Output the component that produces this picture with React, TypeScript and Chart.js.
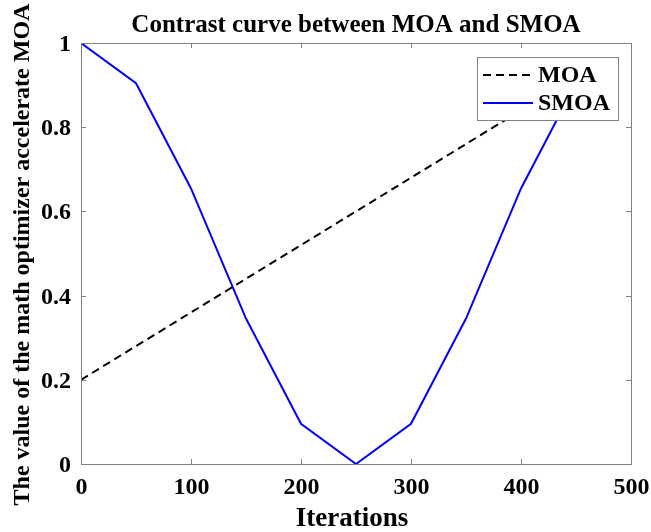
import React, { useEffect, useRef } from "react";
import { Chart, registerables } from "chart.js";

Chart.register(...registerables);

const iterations = [0, 50, 100, 150, 200, 250, 300, 350, 400, 450];
const smoaValues = [1, 0.9045, 0.6545, 0.3455, 0.0955, 0, 0.0955, 0.3455, 0.6545, 0.9045];
const moaIterations = [0, 450];
const moaValues = [0.2, 0.92];
const xTicks = [0, 100, 200, 300, 400, 500];
const yTicks = [0, 0.2, 0.4, 0.6, 0.8, 1];
const titleText = "Contrast curve between MOA and SMOA";
const xLabel = "Iterations";
const yLabel = "The value of the math optimizer accelerate MOA";
const seriesNames = ["MOA", "SMOA"];

const FONT = "'Liberation Serif', 'Times New Roman', serif";
const AXIS_GRAY = "#808080";

const framePlugin = {
  id: "frame",
  afterDraw(chart: any) {
    const { ctx, chartArea } = chart;
    const { left, right, top, bottom } = chartArea;
    const xs = chart.scales.x;
    const ys = chart.scales.y;
    ctx.save();
    ctx.strokeStyle = AXIS_GRAY;
    ctx.lineWidth = 1;
    ctx.strokeRect(Math.round(left) + 0.5, Math.round(top) + 0.5, Math.round(right - left), Math.round(bottom - top));
    const tl = 5;
    ctx.fillStyle = "#000";
    ctx.font = `bold 24px ${FONT}`;
    xTicks.forEach((v) => {
      const px = Math.round(xs.getPixelForValue(v)) + 0.5;
      ctx.beginPath();
      ctx.moveTo(px, bottom);
      ctx.lineTo(px, bottom - tl);
      ctx.moveTo(px, top);
      ctx.lineTo(px, top + tl);
      ctx.stroke();
      ctx.textAlign = "center";
      ctx.textBaseline = "middle";
      ctx.fillText(String(v), px, bottom + 24);
    });
    yTicks.forEach((v) => {
      const py = Math.round(ys.getPixelForValue(v)) + 0.5;
      ctx.beginPath();
      ctx.moveTo(left, py);
      ctx.lineTo(left + tl, py);
      ctx.moveTo(right, py);
      ctx.lineTo(right - tl, py);
      ctx.stroke();
      ctx.textAlign = "right";
      ctx.textBaseline = "middle";
      ctx.fillText(String(v), left - 10, py + 1);
    });

    ctx.fillStyle = "#000";
    const cx = (left + right) / 2;
    ctx.font = `bold 25px ${FONT}`;
    ctx.textAlign = "center";
    ctx.textBaseline = "alphabetic";
    ctx.fillText(titleText, cx, 32);
    ctx.font = `bold 27px ${FONT}`;
    ctx.fillText(xLabel, cx - 4, 526);
    ctx.save();
    ctx.translate(29, (top + bottom) / 2 + 1);
    ctx.rotate(-Math.PI / 2);
    ctx.font = `bold 24px ${FONT}`;
    ctx.fillText(yLabel, 0, 0);
    ctx.restore();

    const lx = 477, ly = 57, lw = 141, lh = 63;
    ctx.fillStyle = "#fff";
    ctx.fillRect(lx, ly, lw, lh);
    ctx.strokeStyle = AXIS_GRAY;
    ctx.lineWidth = 1;
    ctx.strokeRect(lx + 0.5, ly + 0.5, lw, lh);
    const rows = [
      { y: 75, color: "#000", dash: [8, 5] },
      { y: 103, color: "#0000ff", dash: [] as number[] },
    ];
    rows.forEach((r, i) => {
      ctx.beginPath();
      ctx.setLineDash(r.dash);
      ctx.strokeStyle = r.color;
      ctx.lineWidth = 2;
      ctx.moveTo(483, r.y);
      ctx.lineTo(533, r.y);
      ctx.stroke();
      ctx.setLineDash([]);
      ctx.fillStyle = "#000";
      ctx.font = `bold 24px ${FONT}`;
      ctx.textAlign = "left";
      ctx.textBaseline = "middle";
      ctx.fillText(seriesNames[i], 538, r.y + 1);
    });
    ctx.restore();
  },
};

export default function App() {
  const ref = useRef<HTMLCanvasElement | null>(null);
  useEffect(() => {
    document.body.style.margin = "0";
    const canvas = ref.current!;
    const chart = new Chart(canvas, {
      type: "line",
      data: {
        datasets: [
          {
            label: seriesNames[0],
            data: moaIterations.map((x, i) => ({ x, y: moaValues[i] })),
            borderColor: "#000",
            borderWidth: 2,
            borderDash: [8, 5],
            pointRadius: 0,
            fill: false,
          },
          {
            label: seriesNames[1],
            data: iterations.map((x, i) => ({ x, y: smoaValues[i] })),
            borderColor: "#0000ff",
            borderWidth: 2,
            pointRadius: 0,
            fill: false,
          },
        ],
      },
      options: {
        responsive: false,
        animation: false,
        devicePixelRatio: 1,
        layout: { padding: { top: 43, right: 20, left: 0, bottom: 0 } },
        plugins: { legend: { display: false }, title: { display: false }, tooltip: { enabled: false } },
        scales: {
          x: {
            type: "linear",
            min: 0,
            max: 500,
            afterFit: (s: any) => {
              s.height = 68;
            },
            grid: { display: false },
            border: { display: false },
            ticks: { display: false },
          },
          y: {
            type: "linear",
            min: 0,
            max: 1,
            afterFit: (s: any) => {
              s.width = 81;
            },
            grid: { display: false },
            border: { display: false },
            ticks: { display: false },
          },
        },
      },
      plugins: [framePlugin],
    } as any);
    return () => chart.destroy();
  }, []);
  return (
    <div style={{ width: 651, height: 532 }}>
      <canvas ref={ref} width={651} height={532} />
    </div>
  );
}
